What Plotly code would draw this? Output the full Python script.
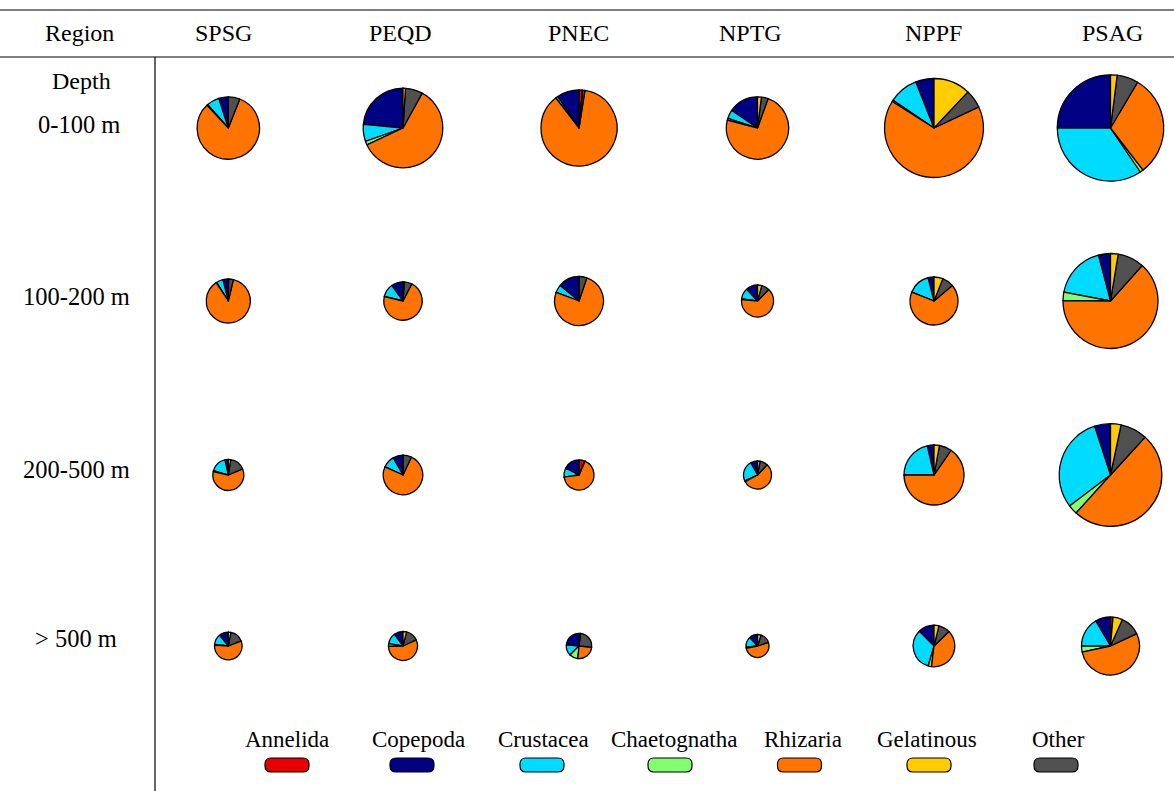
import plotly.graph_objects as go

# ---- data -------------------------------------------------------------
categories = ["Annelida", "Copepoda", "Crustacea", "Chaetognatha",
              "Rhizaria", "Gelatinous", "Other"]
regions = ["SPSG", "PEQD", "PNEC", "NPTG", "NPPF", "PSAG"]
depths = ["0-100 m", "100-200 m", "200-500 m", "> 500 m"]

# composition (%) per region, values in the order of `categories`
comp_0_100 = [
    [0, 5, 6.5, 0.5, 82, 0, 6],
    [0, 23.5, 7, 1.5, 60, 1, 7],
    [1.5, 9.5, 1, 0, 87, 0, 1],
    [0, 15.5, 4.5, 1, 73.5, 2, 3.5],
    [0, 6, 9.5, 0.5, 66, 12, 6],
    [0, 25, 34.5, 1, 31, 2, 6.5],
]
comp_100_200 = [
    [0, 4, 5, 0.3, 87, 0.2, 3.5],
    [0, 10, 11, 0.3, 71, 1, 6.5],
    [0, 14, 5.3, 0, 75.5, 0, 5.2],
    [0, 12, 11, 0.7, 64, 4.3, 8],
    [0, 4, 15, 0, 67.2, 6, 7.8],
    [0, 4.1, 17.9, 2.9, 63.5, 2.6, 9],
]
comp_200_500 = [
    [0, 3.5, 17, 1, 60, 2.5, 16],
    [0, 8.3, 10, 0, 74.7, 0, 7],
    [6.4, 17.5, 9.7, 0, 66.4, 0, 0],
    [0, 8, 24, 1, 55, 3, 9],
    [0, 3.6, 21.4, 0, 65.4, 2.9, 6.7],
    [0, 5, 30.3, 3, 49.9, 3.3, 8.5],
]
comp_500_plus = [
    [0, 11, 12, 1, 57, 3, 16],
    [0, 10, 12.5, 3, 56.5, 4, 14],
    [2, 23.6, 14, 11, 25, 0, 24.4],
    [0, 12, 14.7, 1.7, 51.6, 5, 15],
    [0, 12.5, 33, 2.6, 39.2, 3.8, 8.9],
    [1.4, 8.5, 16.6, 3.3, 53.6, 5.3, 11.3],
]
# pie radius (px), proportional to total abundance in each cell
size_0_100 = [31.7, 40.3, 38.5, 31.7, 50, 53.7]
size_100_200 = [22.5, 19.7, 25, 16.5, 24.5, 48]
size_200_500 = [16, 20.3, 15.5, 14.5, 30.5, 51.8]
size_500_plus = [14.3, 15, 13.2, 12, 21.3, 29.5]

compositions = [comp_0_100, comp_100_200, comp_200_500, comp_500_plus]
sizes = [size_0_100, size_100_200, size_200_500, size_500_plus]

# ---- style ------------------------------------------------------------
colors = {
    "Annelida": "#e60000",
    "Copepoda": "#000082",
    "Crustacea": "#00dcff",
    "Chaetognatha": "#82ff6e",
    "Rhizaria": "#ff7300",
    "Gelatinous": "#ffcc00",
    "Other": "#505050",
}
# slices run counter-clockwise from 12 o'clock in this order
slice_order = ["Annelida", "Copepoda", "Crustacea", "Chaetognatha",
               "Rhizaria", "Other", "Gelatinous"]

W, H = 1174, 791
FONT = "Liberation Serif, Times New Roman, serif"
col_x = [228.3, 403, 579, 757.5, 934, 1110.5]
row_y = [128, 301, 475, 646]

fig = go.Figure()

# invisible trace holding a pixel-based coordinate frame
fig.add_trace(go.Scatter(x=[0, W], y=[0, H], mode="markers",
                         marker=dict(opacity=0), showlegend=False,
                         hoverinfo="skip"))

for ri, (comp_rows, size_row) in enumerate(zip(compositions, sizes)):
    for ci, (vals, r) in enumerate(zip(comp_rows, size_row)):
        lookup = dict(zip(categories, vals))
        labels = slice_order
        values = [lookup[k] for k in labels]
        cx, cy = col_x[ci], row_y[ri]
        rr = r - 0.5
        fig.add_trace(go.Pie(
            labels=labels, values=values, sort=False,
            direction="counterclockwise", rotation=0,
            marker=dict(colors=[colors[k] for k in labels],
                        line=dict(color="black", width=1.3)),
            textinfo="none", hoverinfo="label+percent",
            showlegend=False,
            domain=dict(x=[(cx - rr) / W, (cx + rr) / W],
                        y=[1 - (cy + rr) / H, 1 - (cy - rr) / H]),
        ))

shapes = []
line = dict(color="black", width=1.2)
shapes.append(dict(type="line", xref="x", yref="y", x0=0, x1=W, y0=10, y1=10, line=line))
shapes.append(dict(type="line", xref="x", yref="y", x0=0, x1=W, y0=57, y1=57, line=line))
shapes.append(dict(type="line", xref="x", yref="y", x0=155, x1=155, y0=57, y1=H, line=line))


def rounded_rect(x0, y0, x1, y1, rad):
    return (f"M {x0+rad},{y0} L {x1-rad},{y0} Q {x1},{y0} {x1},{y0+rad} "
            f"L {x1},{y1-rad} Q {x1},{y1} {x1-rad},{y1} L {x0+rad},{y1} "
            f"Q {x0},{y1} {x0},{y1-rad} L {x0},{y0+rad} Q {x0},{y0} {x0+rad},{y0} Z")


def label(x, y, text, size):
    return dict(x=x, y=y, xref="x", yref="y", text=text, showarrow=False,
                font=dict(family=FONT, size=size, color="black"))


legend_swatch_x = [287, 412, 542, 670, 799.5, 929, 1056]
legend_label_x = [287, 418, 543, 674, 803, 927, 1058]
annotations = []
for cat, sx, lx in zip(categories, legend_swatch_x, legend_label_x):
    shapes.append(dict(type="path", xref="x", yref="y",
                       path=rounded_rect(sx - 22, 758, sx + 22, 772, 6),
                       fillcolor=colors[cat], line=dict(color="black", width=1.2)))
    annotations.append(label(lx, 739, cat, 23))

header_x = [223, 400, 578, 750, 933, 1112]
annotations.append(label(79, 33, "Region", 24))
for name, hx in zip(regions, header_x):
    annotations.append(label(hx, 33, name, 24))
annotations.append(label(81, 81, "Depth", 24))
depth_label_y = [124, 296, 469, 638]
depth_label_x = [79, 76, 76, 76]
for d, dx, dy in zip(depths, depth_label_x, depth_label_y):
    annotations.append(label(dx, dy, d, 24.5))

fig.update_layout(
    width=W, height=H,
    margin=dict(l=0, r=0, t=0, b=0),
    paper_bgcolor="white", plot_bgcolor="white",
    xaxis=dict(range=[0, W], visible=False, domain=[0, 1], fixedrange=True),
    yaxis=dict(range=[H, 0], visible=False, domain=[0, 1], fixedrange=True),
    shapes=shapes, annotations=annotations,
    showlegend=False,
)

fig.write_html("out.html")
